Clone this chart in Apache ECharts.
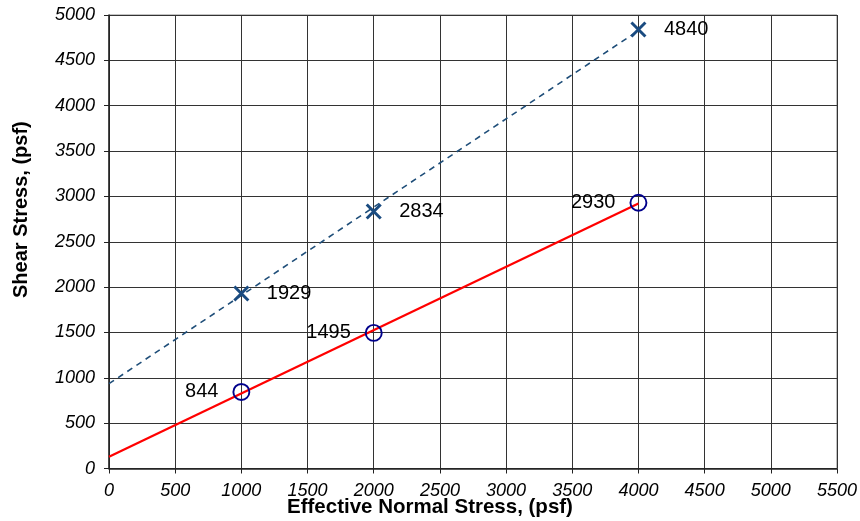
<!DOCTYPE html>
<html><head><meta charset="utf-8">
<script src="https://cdn.jsdelivr.net/npm/echarts@6/dist/echarts.min.js"></script>
<style>html,body{margin:0;padding:0;background:#fff}#c{width:860px;height:521px}</style>
</head><body><div id="c"></div>
<script>
// Data
var normalStress = [1000, 2000, 4000];
var peakShear = [1929, 2834, 4840];
var residualShear = [844, 1495, 2930];
// Trend line endpoints
var peakTrendX = [0, 4000];
var peakTrendY = [935, 4828];
var residualTrendX = [0, 4000];
var residualTrendY = [130, 2922];
var xTicks = {min: 0, max: 5500, interval: 500};
var yTicks = {min: 0, max: 5000, interval: 500};

function pairs(xs, ys){ return xs.map(function(x,i){ return [x, ys[i]]; }); }

var font = 'Liberation Sans, Arial, sans-serif';
var chart = echarts.init(document.getElementById('c'), null, {renderer:'canvas'});
chart.setOption({
  animation: false,
  backgroundColor: '#fff',
  grid: {left: 109, right: 20, top: 15, bottom: 52.5, show: true, borderColor: '#888', borderWidth: 1},
  xAxis: {
    type: 'value', min: xTicks.min, max: xTicks.max, interval: xTicks.interval,
    axisLine: {show: true, lineStyle: {color: '#222', width: 1.5}},
    axisTick: {show: true, inside: false, length: 5, lineStyle: {color: '#222'}},
    splitLine: {show: true, lineStyle: {color: '#333', width: 1}},
    axisLabel: {fontFamily: font, fontSize: 18, fontStyle: 'italic', color: '#000', margin: 13,
                formatter: function(v){ return String(v); }}
  },
  yAxis: {
    type: 'value', min: yTicks.min, max: yTicks.max, interval: yTicks.interval,
    axisLine: {show: true, lineStyle: {color: '#222', width: 1.5}},
    axisTick: {show: true, inside: false, length: 5, lineStyle: {color: '#222'}},
    splitLine: {show: true, lineStyle: {color: '#333', width: 1}},
    axisLabel: {fontFamily: font, fontSize: 18, fontStyle: 'italic', color: '#000', margin: 14,
                formatter: function(v){ return String(v); }}
  },
  graphic: [
    {type: 'text', left: 287, top: 497, style: {text: 'Effective Normal Stress, (psf)', font: 'bold 20.5px ' + font, fill: '#000'}},
    {type: 'text', x: 11, y: 298, rotation: Math.PI/2, style: {text: 'Shear Stress, (psf)', font: 'bold 20px ' + font, fill: '#000'}}
  ],
  series: [
    {type: 'line', data: pairs(peakTrendX, peakTrendY), symbol: 'none', silent: true,
     lineStyle: {color: '#1F4E79', width: 1.6, type: [6, 5]}, z: 2},
    {type: 'line', data: pairs(residualTrendX, residualTrendY), symbol: 'none', silent: true,
     lineStyle: {color: '#FF0000', width: 2.2}, z: 2},
    {type: 'scatter', data: pairs(normalStress, peakShear), symbol: 'path://M0,0L10,10M10,0L0,10', symbolSize: 14,
     itemStyle: {color: 'none', borderColor: '#1A4B80', borderWidth: 3, opacity: 1},
     label: {show: true, position: 'right', distance: 16, formatter: function(p){return String(p.value[1]);},
             fontFamily: font, fontSize: 20, color: '#000', textBorderWidth: 0}, z: 5},
    {type: 'scatter', data: pairs(normalStress, residualShear), symbol: 'circle', symbolSize: 16,
     itemStyle: {color: 'rgba(0,0,0,0)', borderColor: '#00008B', borderWidth: 1.9, opacity: 1},
     label: {show: true, position: 'left', distance: 14, formatter: function(p){return String(p.value[1]);},
             fontFamily: font, fontSize: 20, color: '#000', textBorderWidth: 0}, z: 5}
  ]
});
</script></body></html>
